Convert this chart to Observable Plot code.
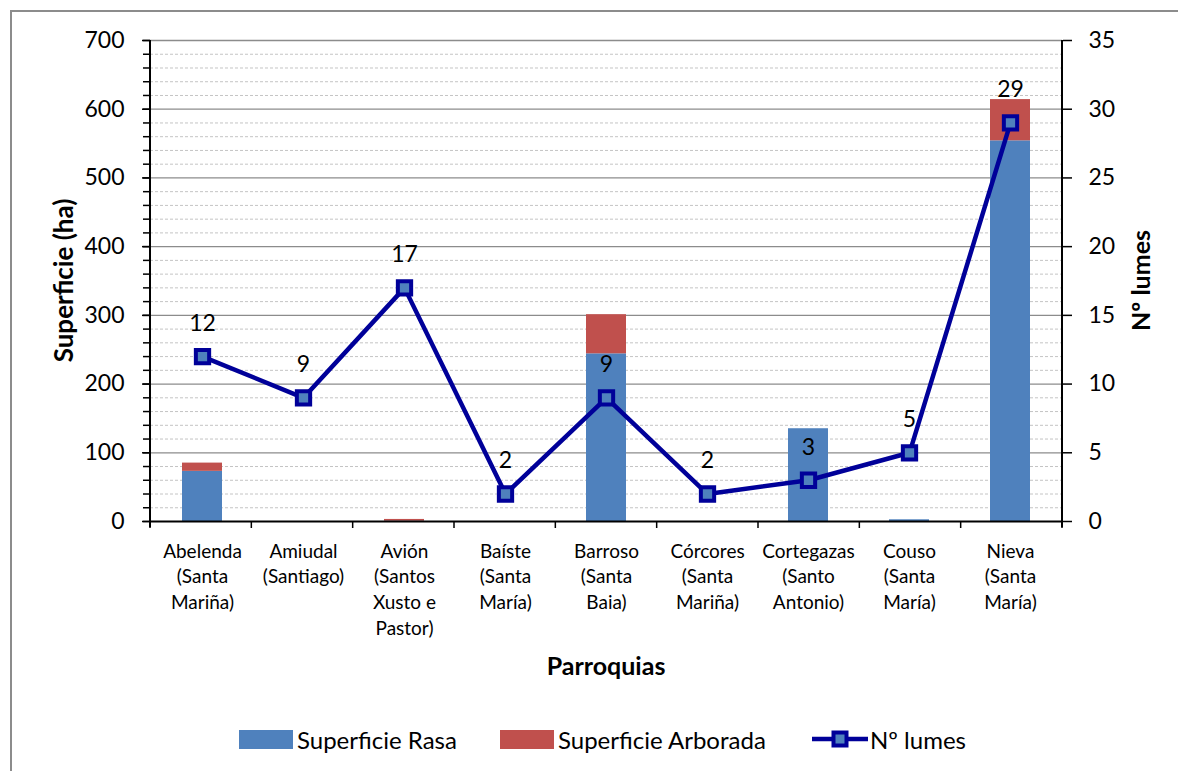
<!DOCTYPE html>
<html>
<head>
<meta charset="utf-8">
<script src="https://cdn.jsdelivr.net/npm/d3@7"></script>
<script src="https://cdn.jsdelivr.net/npm/@observablehq/plot@0.6"></script>
<style>
  html, body { margin: 0; padding: 0; background: #fff; overflow: hidden; }
  #wrap { position: relative; width: 1178px; height: 771px; overflow: hidden; font-family: Lato, "Open Sans", sans-serif; }
  #frame { position: absolute; left: 10px; top: 10px; width: 1300px; height: 900px; border-left: 2px solid #8c8c8c; border-top: 2px solid #8c8c8c; }
  #chart { position: absolute; left: 0; top: 0; }
  .leg { position: absolute; top: 725px; height: 28px; display: flex; align-items: center; font-size: 24px; color: #000; white-space: nowrap; }
  .sw { display: inline-block; width: 54px; height: 19px; margin-right: 4px; }
</style>
</head>
<body>
<div id="wrap">
  <div id="frame"></div>
  <div id="chart"></div>
  <div class="leg" style="left:239px"><span class="sw" style="background:#4F81BD"></span>Superficie Rasa</div>
  <div class="leg" style="left:500px"><span class="sw" style="background:#C0504D"></span>Superficie Arborada</div>
  <div class="leg" style="left:812px"><svg width="56" height="24" style="margin-right:2px"><line x1="0" y1="12" x2="56" y2="12" stroke="#000099" stroke-width="4.5"/><rect x="21.5" y="5.5" width="13" height="13" fill="#4F81BD" stroke="#000099" stroke-width="4"/></svg>Nº lumes</div>
</div>
<script>
const categories = ["Abelenda (Santa Mariña)", "Amiudal (Santiago)", "Avión (Santos Xusto e Pastor)", "Baíste (Santa María)", "Barroso (Santa Baia)", "Córcores (Santa Mariña)", "Cortegazas (Santo Antonio)", "Couso (Santa María)", "Nieva (Santa María)"];
const tickLabels = ["Abelenda\n(Santa\nMariña)", "Amiudal\n(Santiago)", "Avión\n(Santos\nXusto e\nPastor)", "Baíste\n(Santa\nMaría)", "Barroso\n(Santa\nBaia)", "Córcores\n(Santa\nMariña)", "Cortegazas\n(Santo\nAntonio)", "Couso\n(Santa\nMaría)", "Nieva\n(Santa\nMaría)"];
const superficieRasa = [73, 0, 0.5, 0, 244, 0, 135, 2.5, 554];
const superficieArborada = [12, 0, 2.5, 0, 57, 0, 0, 0, 60];
const lumes = [12, 9, 17, 2, 9, 2, 3, 5, 29];
const leftTicks = [0, 100, 200, 300, 400, 500, 600, 700];
const rightTicks = [0, 5, 10, 15, 20, 25, 30, 35];
const series = ["Superficie Rasa", "Superficie Arborada"];

const ratio = 700 / 35;
const labelOf = new Map(categories.map((c, i) => [c, tickLabels[i]]));
const bars = [];
categories.forEach((c, i) => {
  bars.push({cat: c, series: series[0], value: superficieRasa[i]});
  bars.push({cat: c, series: series[1], value: superficieArborada[i]});
});
const lineData = categories.map((c, i) => ({cat: c, lumes: lumes[i]}));
const minor = d3.range(0, 701, 20);
const minorGrid = minor.filter(d => d % 100 !== 0);

const plot = Plot.plot({
  width: 1178, height: 771,
  marginLeft: 150, marginRight: 116, marginTop: 40, marginBottom: 250,
  style: {fontFamily: "Lato, 'Open Sans', sans-serif", background: "transparent", color: "#000", overflow: "visible"},
  x: {domain: categories, paddingInner: 0.6, paddingOuter: 0.3},
  y: {domain: [0, 700]},
  color: {domain: series, range: ["#4F81BD", "#C0504D"]},
  marks: [
    Plot.ruleY(minorGrid, {stroke: "#c4c4c4", strokeDasharray: "3,2", strokeWidth: 1}),
    Plot.ruleY(leftTicks.filter(d => d > 0), {stroke: "#8c8c8c", strokeWidth: 1.3}),
    Plot.barY(bars, {x: "cat", y: "value", fill: "series", order: series}),
    Plot.axisY({anchor: "left", label: null, ticks: minor, tickSize: 7, tickFormat: () => "", strokeWidth: 1.5}),
    Plot.axisY({anchor: "left", label: null, ticks: leftTicks, tickSize: 8, tickPadding: 18, fontSize: 23, strokeWidth: 1.5}),
    Plot.axisY({anchor: "right", label: null, ticks: rightTicks.map(d => d * ratio), tickSize: 9, tickPadding: 17, fontSize: 23, strokeWidth: 1.5, tickFormat: d => String(d / ratio)}),
    Plot.axisX({label: null, ticks: categories, tickSize: 0, tickPadding: 18, fontSize: 19, lineHeight: 1.35, tickFormat: d => labelOf.get(d)}),
    Plot.ruleY([0], {stroke: "#000", strokeWidth: 2}),
    Plot.line(lineData, {x: "cat", y: d => d.lumes * ratio, stroke: "#000099", strokeWidth: 4.5}),
    Plot.dot(lineData, {x: "cat", y: d => d.lumes * ratio, symbol: "square", r: 7.5, fill: "#4F81BD", stroke: "#000099", strokeWidth: 4}),
    Plot.text(lineData, {x: "cat", y: d => d.lumes * ratio, text: d => String(d.lumes), dy: -33, fontSize: 23, fill: "#000"})
  ]
});
document.getElementById("chart").appendChild(plot);

// axis lines, band-boundary ticks and titles
const svg = d3.select(plot);
const xs = plot.scale("x"), ys = plot.scale("y");
const [x0, x1] = xs.range;
const yTop = ys.apply(700), yBot = ys.apply(0);
const g = svg.append("g");
g.append("line").attr("x1", x0).attr("x2", x0).attr("y1", yTop).attr("y2", yBot + 6).attr("stroke", "#000").attr("stroke-width", 2);
g.append("line").attr("x1", x1).attr("x2", x1).attr("y1", yTop).attr("y2", yBot + 6).attr("stroke", "#000").attr("stroke-width", 2);
const step = (x1 - x0) / categories.length;
for (let i = 0; i <= categories.length; i++) {
  g.append("line").attr("x1", x0 + i * step).attr("x2", x0 + i * step).attr("y1", yBot).attr("y2", yBot + 7).attr("stroke", "#000").attr("stroke-width", 1.5);
}
const midY = (yTop + yBot) / 2;
g.append("text").attr("transform", `translate(63,${midY}) rotate(-90)`).attr("text-anchor", "middle").attr("dominant-baseline", "central")
  .attr("font-size", 26).attr("font-weight", "bold").attr("fill", "#000").text("Superficie (ha)");
g.append("text").attr("transform", `translate(1140,${midY}) rotate(-90)`).attr("text-anchor", "middle").attr("dominant-baseline", "central")
  .attr("font-size", 25).attr("font-weight", "bold").attr("fill", "#000").text("Nº lumes");
g.append("text").attr("x", (x0 + x1) / 2).attr("y", 665).attr("text-anchor", "middle").attr("dominant-baseline", "central")
  .attr("font-size", 25).attr("font-weight", "bold").attr("fill", "#000").text("Parroquias");
</script>
</body>
</html>
